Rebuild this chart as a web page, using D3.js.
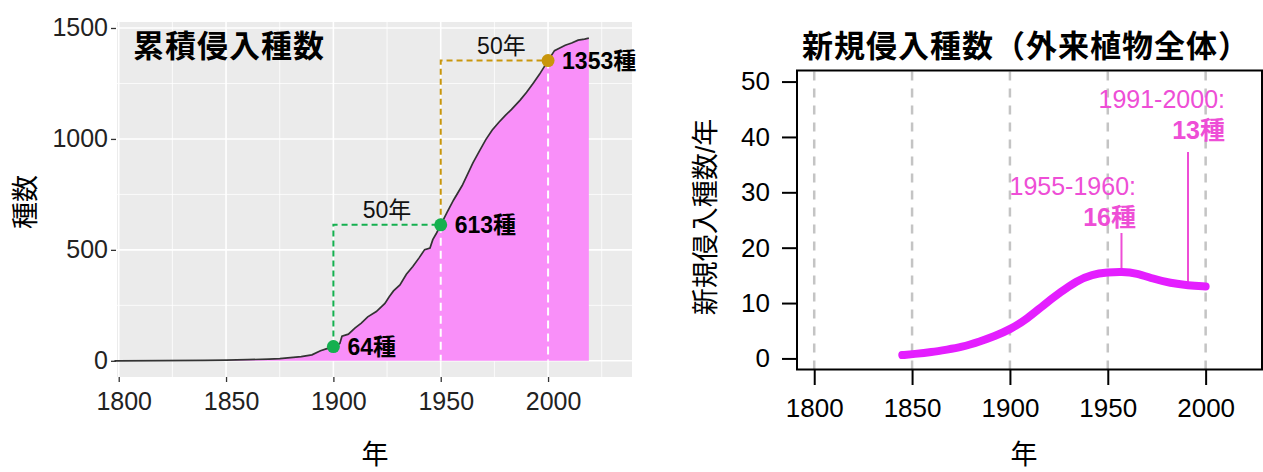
<!DOCTYPE html>
<html><head><meta charset="utf-8">
<script src="https://cdn.jsdelivr.net/npm/d3@7"></script>
<style>
body{margin:0;background:#fff;}
text{font-family:"Liberation Sans","Noto Sans CJK JP",sans-serif;}
</style></head><body>
<svg id="c" width="1263" height="472"></svg>
<script>
// ---- data: cumulative invaded species (left) ----
const cumYears  = [1798,1800,1820,1840,1850,1860,1870,1875,1880,1885,1890,1894,1897,1900,1902,1903,1904,1907,1910,1913,1916,1920,1924,1926,1928,1931,1934,1937,1940,1942.5,1945,1946.3,1948,1950,1953,1956,1960,1965,1968,1971,1974,1977,1980,1983,1987,1990,1993,1996,2000,2003,2005,2008,2011,2014,2017,2019];
const cumValues = [0,0,1,2,3,5,8,10,14,19,27,45,55,64,72,78,111,120,147,170,198,222,259,289,315,342,390,425,465,501,508,546,575,613,670,725,790,892,945,997,1040,1074,1105,1133,1175,1210,1250,1291,1353,1398,1408,1422,1432,1445,1450,1454];
const markYears  = [1900,1950,2000];
const markValues = [64,613,1353];
const markLabels = ["64種","613種","1353種"];
const spanLabel  = "50年";
const leftXTicks = [1800,1850,1900,1950,2000];
const leftYTicks = [0,500,1000,1500];
const leftMinorX = [1825,1875,1925,1975,2025];
const leftMinorY = [250,750,1250];

// ---- data: new invaded species per year (right) ----
const rateYears  = [1845,1851,1860,1868,1875,1885,1892,1900,1909,1917,1926,1934,1942,1950,1957,1965,1973,1982,1991,2000];
const rateValues = [0.6,0.8,1.15,1.6,2.0,3.1,4.0,5.2,7.2,9.6,12.0,14.0,15.2,15.55,15.7,15.4,14.4,13.6,13.2,13.0];
const rightXTicks = [1800,1850,1900,1950,2000];
const rightYTicks = [0,10,20,30,40,50];
const noteYears  = [1957,1991];
const notePeriods = ["1955-1960:","1991-2000:"];
const noteCounts  = ["16種","13種"];

const svg = d3.select("#c");

// ================= LEFT PANEL =================
const xL = d3.scaleLinear().domain([1799.2,2039.1]).range([117,632]);
const yL = d3.scaleLinear().domain([-73,1527]).range([377,22]);
const L = svg.append("g");
L.append("rect").attr("x",117).attr("y",22).attr("width",515).attr("height",355).attr("fill","#ebebeb");
L.selectAll(".mgx").data(leftMinorX).join("line")
  .attr("x1",d=>xL(d)).attr("x2",d=>xL(d)).attr("y1",22).attr("y2",377)
  .attr("stroke","#fff").attr("stroke-width",0.8);
L.selectAll(".mgy").data(leftMinorY).join("line")
  .attr("y1",d=>yL(d)).attr("y2",d=>yL(d)).attr("x1",117).attr("x2",632)
  .attr("stroke","#fff").attr("stroke-width",0.8);
L.selectAll(".Mgx").data(leftXTicks).join("line")
  .attr("x1",d=>xL(d)).attr("x2",d=>xL(d)).attr("y1",22).attr("y2",377)
  .attr("stroke","#fff").attr("stroke-width",1.6);
L.selectAll(".Mgy").data(leftYTicks).join("line")
  .attr("y1",d=>yL(d)).attr("y2",d=>yL(d)).attr("x1",117).attr("x2",632)
  .attr("stroke","#fff").attr("stroke-width",1.6);

const cum = cumYears.map((y,i)=>({x:y,v:cumValues[i]}));
L.append("path").datum(cum)
  .attr("d",d3.area().x(d=>xL(d.x)).y0(yL(0)).y1(d=>yL(d.v)))
  .attr("fill","#f98ff9");
L.append("path").datum(cum)
  .attr("d",d3.line().x(d=>xL(d.x)).y(d=>yL(d.v)))
  .attr("fill","none").attr("stroke","#333").attr("stroke-width",1.7);

[1,2].forEach(i=>{
  L.append("line").attr("x1",xL(markYears[i])).attr("x2",xL(markYears[i]))
    .attr("y1",yL(markValues[i])).attr("y2",yL(0))
    .attr("stroke","#fff").attr("stroke-width",2).attr("stroke-dasharray","8,5");
});
const bracketColors = ["#14b04f","#c9960c"];
[0,1].forEach(i=>{
  const xa = xL(markYears[i]), xb = xL(markYears[i+1]);
  const ya = yL(markValues[i]), yb = yL(markValues[i+1]);
  L.append("path").attr("d",`M${xa},${ya}V${yb}H${xb}`)
    .attr("fill","none").attr("stroke",bracketColors[i]).attr("stroke-width",2)
    .attr("stroke-dasharray","6,4");
  L.append("text").attr("x",(xa+xb)/2 + (i===0?0:7)).attr("y",yb-7)
    .attr("text-anchor","middle").attr("font-size",23).attr("fill","#111").text(spanLabel);
});
const pointColors = ["#14b04f","#14b04f","#c9960c"];
markYears.forEach((yr,i)=>{
  L.append("circle").attr("cx",xL(yr)).attr("cy",yL(markValues[i])).attr("r",6.5).attr("fill",pointColors[i]);
  L.append("text").attr("x",xL(yr)+14).attr("y",yL(markValues[i])+8)
    .attr("font-size",23).attr("font-weight","bold").attr("fill","#000").text(markLabels[i]);
});
L.append("text").attr("x",133).attr("y",57).attr("font-size",31).attr("font-weight","bold")
  .attr("letter-spacing",1).attr("fill","#000").text("累積侵入種数");

const axL = L.append("g").attr("transform","translate(0,377)")
  .call(d3.axisBottom(xL).tickValues(leftXTicks).tickSize(5).tickPadding(10).tickFormat(d3.format("d")));
axL.select(".domain").remove();
axL.selectAll("line").attr("stroke","#333").attr("stroke-width",1.3);
axL.selectAll("text").attr("font-size",25).attr("fill","#222").attr("dx",5).style("font-family","Liberation Sans");
const ayL = L.append("g").attr("transform","translate(116,0)")
  .call(d3.axisLeft(yL).tickValues(leftYTicks).tickSize(5).tickPadding(3).tickFormat(d3.format("d")));
ayL.select(".domain").remove();
ayL.selectAll("line").attr("stroke","#333").attr("stroke-width",1.3);
ayL.selectAll("text").attr("font-size",25).attr("fill","#222").style("font-family","Liberation Sans");
L.append("text").attr("x",375).attr("y",464).attr("text-anchor","middle").attr("font-size",27).attr("fill","#000").text("年");
L.append("text").attr("transform","translate(35,202) rotate(-90)").attr("text-anchor","middle")
  .attr("font-size",27).attr("fill","#000").text("種数");

// ================= RIGHT PANEL =================
const xR = d3.scaleLinear().domain([1791.2,2028.8]).range([797,1262]);
const yR = d3.scaleLinear().domain([-2,52]).range([369.5,70.5]);
const R = svg.append("g");
R.selectAll(".vd").data(rightXTicks).join("line")
  .attr("x1",d=>xR(d)).attr("x2",d=>xR(d)).attr("y1",yR(-2)).attr("y2",yR(52))
  .attr("stroke","#c4c4c4").attr("stroke-width",2.5).attr("stroke-dasharray","9,8");

const rate = rateYears.map((y,i)=>({x:y,v:rateValues[i]}));
const stemTops = [233,152];
noteYears.forEach((yr,i)=>{
  R.append("line").attr("x1",xR(yr)).attr("x2",xR(yr)).attr("y1",stemTops[i])
    .attr("y2",yR(rateValues[rateYears.indexOf(yr)]))
    .attr("stroke","#ee4ed6").attr("stroke-width",2);
});
R.append("path").datum(rate)
  .attr("d",d3.line().curve(d3.curveBasis).x(d=>xR(d.x)).y(d=>yR(d.v)))
  .attr("fill","none").attr("stroke","#e41eff").attr("stroke-width",8).attr("stroke-linecap","round");

const noteRight = [1136,1225];
const noteBase  = [195,108];
noteYears.forEach((yr,i)=>{
  R.append("text").attr("x",noteRight[i]).attr("y",noteBase[i]).attr("text-anchor","end")
    .attr("font-size",25).attr("fill","#ee4ed6").text(notePeriods[i]);
  R.append("text").attr("x",noteRight[i]).attr("y",noteBase[i]+31).attr("text-anchor","end")
    .attr("font-size",25).attr("font-weight","bold").attr("fill","#ee4ed6").text(noteCounts[i]);
});

R.append("rect").attr("x",797).attr("y",70.5).attr("width",465).attr("height",299)
  .attr("fill","none").attr("stroke","#000").attr("stroke-width",2);
const axR = R.append("g").attr("transform","translate(0,370)")
  .call(d3.axisBottom(xR).tickValues(rightXTicks).tickSize(15).tickPadding(14).tickFormat(d3.format("d")));
axR.select(".domain").remove();
axR.selectAll("line").attr("stroke","#000").attr("stroke-width",2);
axR.selectAll("text").attr("font-size",26).attr("fill","#000").style("font-family","Liberation Sans");
const ayR = R.append("g").attr("transform","translate(797,0)")
  .call(d3.axisLeft(yR).tickValues(rightYTicks).tickSize(15).tickPadding(12).tickFormat(d3.format("d")));
ayR.select(".domain").remove();
ayR.selectAll("line").attr("stroke","#000").attr("stroke-width",2);
ayR.selectAll("text").attr("font-size",26).attr("fill","#000").style("font-family","Liberation Sans");

R.append("text").attr("x",802).attr("y",57).attr("font-size",31).attr("font-weight","bold")
  .attr("letter-spacing",1).attr("fill","#000").text("新規侵入種数（外来植物全体）");
R.append("text").attr("x",1024).attr("y",464).attr("text-anchor","middle").attr("font-size",27).attr("fill","#000").text("年");
R.append("text").attr("transform","translate(715,217) rotate(-90)").attr("text-anchor","middle")
  .attr("font-size",27).attr("fill","#000").text("新規侵入種数/年");
</script>
</body></html>
